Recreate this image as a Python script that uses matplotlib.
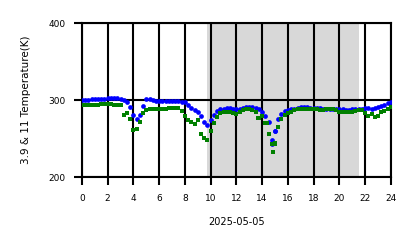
import numpy as np
import matplotlib
matplotlib.use("Agg")
import matplotlib.pyplot as plt

# 時間 (小時), 每 15 分鐘一筆
hours = np.arange(0, 24.01, 0.25)

# 3.9 um 亮溫 (K)
t39 = [300, 300, 300, 301, 301, 302, 302, 302, 303, 303, 303, 303,
       302, 300, 297, 291, 281, 275, 280, 292, 301, 302, 300, 299,
       299, 299, 299, 299, 299, 299, 299, 298, 297, 294, 290, 287,
       284, 279, 272, 268, 274, 281, 286, 288, 289, 290, 290, 289,
       288, 288, 290, 291, 291, 291, 290, 288, 284, 279, 272, 248,
       260, 275, 282, 286, 287, 288, 289, 290, 291, 291, 291, 290,
       290, 290, 290, 289, 289, 289, 289, 289, 288, 288, 287, 287,
       288, 288, 288, 289, 290, 290, 289, 290, 291, 292, 294, 296,
       297]

# 11 um 亮溫 (K)
t11 = [294, 294, 294, 294, 294, 294, 295, 295, 295, 295, 294, 294,
       293, 281, 283, 276, 261, 262, 272, 283, 287, 288, 288, 288,
       288, 289, 289, 290, 290, 290, 290, 286, 279, 274, 272, 269,
       274, 256, 251, 248, 260, 270, 278, 283, 284, 284, 284, 283,
       282, 285, 287, 288, 288, 287, 285, 277, 279, 270, 256, 243,
       244, 265, 276, 280, 283, 285, 287, 288, 289, 289, 289, 288,
       288, 288, 287, 287, 288, 288, 288, 287, 285, 284, 284, 284,
       285, 286, 287, 287, 283, 279, 282, 278, 279, 284, 286, 289,
       291]

# 額外的離群點
extra39_t = [14.8, 15.0]
extra39_v = [243, 260]
extra11_t = [14.84, 15.0, 14.35, 13.65]
extra11_v = [232, 243, 270, 277]

# 夜間區段
night_start, night_end = 9.75, 21.5

fig, ax = plt.subplots(figsize=(4.18, 2.48), dpi=100)
fig.subplots_adjust(left=0.196, right=0.935, bottom=0.286, top=0.907)

ax.axvspan(night_start, night_end, color="gray", alpha=0.3, lw=0, zorder=0)

ax.plot(hours, t39, "o", color="blue", ms=3.4, mew=0, zorder=3)
ax.plot(extra39_t, extra39_v, "o", color="blue", ms=3.4, mew=0, zorder=3)
ax.plot(hours, t11, "s", color="green", ms=2.8, mew=0, zorder=4)
ax.plot(extra11_t, extra11_v, "s", color="green", ms=2.8, mew=0, zorder=4)

ax.set_xlim(0, 24)
ax.set_ylim(200, 400)
ax.set_xticks(range(0, 25, 2))
ax.set_yticks([200, 300, 400])
ax.grid(True, color="black", lw=1.5, zorder=2)
ax.set_axisbelow(False)
for sp in ax.spines.values():
    sp.set_linewidth(1.5)
ax.tick_params(length=6, width=1.5, labelsize=6.5, pad=6)
ax.set_xlabel("2025-05-05", fontsize=7, labelpad=10)
ax.set_ylabel("3.9 & 11 Temperature(K)", fontsize=7.5, labelpad=12)

fig.savefig("out.png", dpi=100)
